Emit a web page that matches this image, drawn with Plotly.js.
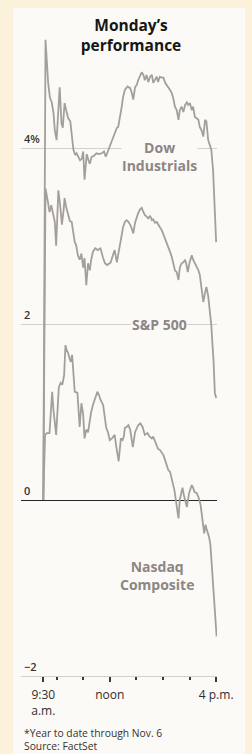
<!DOCTYPE html>
<html>
<head>
<meta charset="utf-8">
<script src="https://cdn.plot.ly/plotly-3.0.1.min.js"></script>
<style>
  html, body { margin: 0; padding: 0; background: #fcf2dc; }
  #chart { width: 252px; height: 754px; }
</style>
</head>
<body>
<div id="chart"></div>
<script>
// Minutes after 9:30 a.m. and percent change (year to date) for each index
const dowTime = [0,5,11,15,19,23,26,30,37,41,44,48,53,56,61,64,68,72,75,79,83,87,90,93,98,102,105,109,114,120,126,132,137,141,147,150,154,158,162,166,169,172,177,180,184,190,196,199,203,207,211,214,218,222,226,229,233,237,241,245,248,252,256,259,263,267,271,275,278,282,286,290,293,297,301,305,308,312,316,320,324,327,331,335,338,342,346,350,353,357,361,365,368,372,376,379,383,386,390];
const dowPct = [0,5.23,4.74,4.57,4.52,4.40,4.20,4.09,4.69,4.28,4.23,4.51,4.40,4.34,4.30,4.12,3.98,3.92,3.94,3.90,3.86,3.88,3.96,3.64,3.93,3.86,3.82,3.90,3.91,3.94,3.93,3.94,3.96,3.90,3.98,4.02,4.07,4.12,4.18,4.23,4.24,4.32,4.47,4.58,4.66,4.70,4.68,4.64,4.55,4.69,4.72,4.77,4.81,4.86,4.83,4.77,4.83,4.75,4.81,4.83,4.74,4.77,4.81,4.75,4.81,4.80,4.80,4.74,4.72,4.68,4.66,4.62,4.57,4.47,4.43,4.32,4.43,4.47,4.41,4.49,4.52,4.49,4.51,4.43,4.47,4.35,4.34,4.32,4.24,4.20,4.13,4.32,4.30,4.09,4.03,3.98,3.75,3.41,2.93];

const spTime = [0,5,11,14,18,22,26,29,34,38,42,46,48,52,56,60,64,67,71,74,78,82,86,90,93,97,101,105,108,112,117,123,129,135,139,144,147,152,157,161,166,172,176,180,184,188,192,196,199,203,207,211,214,218,222,226,229,233,237,241,245,248,252,256,259,263,267,271,275,278,282,286,290,293,297,301,305,308,312,316,320,323,326,330,335,338,342,346,350,353,357,361,365,368,372,376,379,381,384,387,390];
const spPct = [0,3.54,3.37,3.27,3.35,3.24,3.16,2.89,3.52,3.35,3.13,3.30,3.43,3.32,3.24,3.17,3.16,3.05,2.93,2.90,2.78,2.73,2.80,2.64,2.75,2.44,2.69,2.61,2.73,2.82,2.86,2.84,2.86,2.75,2.69,2.67,2.68,2.70,2.78,2.84,2.70,2.88,3.01,3.10,3.16,3.18,3.16,3.13,3.09,3.03,3.15,3.22,3.26,3.30,3.32,3.27,3.24,3.22,3.20,3.23,3.18,3.19,3.15,3.16,3.13,3.10,3.07,3.02,2.98,2.93,2.88,2.82,2.76,2.69,2.61,2.59,2.50,2.64,2.69,2.70,2.73,2.67,2.59,2.70,2.78,2.73,2.69,2.66,2.61,2.56,2.42,2.25,2.36,2.42,2.32,2.16,1.99,1.82,1.59,1.22,1.16];

const nasTime = [0,4,8,14,20,23,29,35,39,43,47,50,53,56,59,62,65,68,71,77,82,86,90,93,97,101,105,108,112,116,122,126,129,135,139,142,146,150,155,161,164,167,170,175,179,182,184,188,192,196,199,202,207,211,214,219,224,229,235,240,245,248,252,256,259,263,268,271,275,278,282,286,290,293,296,299,302,305,308,314,317,320,324,329,335,338,341,346,351,355,357,360,363,366,368,371,374,377,378,381,383,385,387,389,391];
const nasPct = [0,0.74,0.76,0.76,1.23,1.02,0.74,1.28,1.33,1.31,1.42,1.76,1.70,1.67,1.61,1.57,1.65,1.42,1.23,1.22,0.83,1.10,0.97,0.70,0.80,0.77,0.91,1.00,1.08,1.14,1.23,1.19,1.14,1.08,0.91,0.82,0.77,0.68,0.70,0.74,0.63,0.53,0.44,0.70,0.68,0.73,0.82,0.83,0.85,0.80,0.72,0.60,0.77,0.83,0.85,0.87,0.83,0.74,0.76,0.72,0.70,0.72,0.66,0.60,0.58,0.57,0.53,0.51,0.45,0.40,0.34,0.32,0.23,0.18,0.11,0.00,-0.09,-0.21,0.00,0.14,0.06,0.00,-0.08,0.08,0.17,0.14,0.09,0.08,0.02,-0.06,-0.17,-0.26,-0.38,-0.28,-0.32,-0.36,-0.42,-0.51,-0.59,-0.74,-0.87,-1.08,-1.25,-1.42,-1.55];

const seriesLabels = ['Dow<br>Industrials', 'S&amp;P 500', 'Nasdaq<br>Composite'];

const yTickVals = [-2, 0, 2, 4];
const yTickText = ['\u22122', '0', '2', '4%'];
const xMajorVals = [0, 150, 390];
const xMajorText = ['9:30<br>a.m.', 'noon', '4 p.m.'];
const xMinorVals = [30, 90, 210, 270, 330];
const footnote = '*Year to date through Nov. 6<br>Source: FactSet';

const lineColor = '#a59f9c';
const labelColor = '#8c8684';
const panelColor = '#fbfaf6';
const gridColor = '#d5d0cb';

const traces = [
  {x: dowTime, y: dowPct, name: 'Dow Industrials'},
  {x: spTime, y: spPct, name: 'S&P 500'},
  {x: nasTime, y: nasPct, name: 'Nasdaq Composite'}
].map(t => Object.assign(t, {
  type: 'scatter', mode: 'lines',
  line: {color: lineColor, width: 1.8},
  hoverinfo: 'skip', showlegend: false
}));

const labelFont = {family: 'Open Sans, sans-serif', size: 14, color: labelColor, weight: 700};
const tickFont = {family: 'Open Sans, sans-serif', size: 12, color: '#2e2e2e'};
const noteFont = {family: 'Open Sans, sans-serif', size: 10.3, color: '#333333'};

// plot area: x 21..217 px, y 30..676 px (bottom edge = -2)
const yBottom = -2;
const yTop = yBottom + 646 / 88;

const layout = {
  width: 252, height: 754,
  margin: {l: 21, r: 35, t: 30, b: 78},
  paper_bgcolor: '#fcf2dc',
  plot_bgcolor: 'rgba(0,0,0,0)',
  showlegend: false,
  title: {
    text: 'Monday\u2019s<br>performance',
    xref: 'container', yref: 'container',
    x: 131 / 252, xanchor: 'center',
    y: 1 - 31 / 754, yanchor: 'middle',
    font: {family: 'Open Sans, sans-serif', size: 15.5, color: '#161616', weight: 700}
  },
  xaxis: {
    range: [-50.3, 391.9],
    showgrid: false, zeroline: false,
    showline: true, linecolor: gridColor, linewidth: 1,
    tickmode: 'array', tickvals: xMajorVals, ticktext: xMajorText,
    ticks: 'outside', ticklen: 5, tickwidth: 2, tickcolor: '#3a3a3a',
    minor: {tickmode: 'array', tickvals: xMinorVals, ticks: 'outside', ticklen: 3, tickwidth: 2, tickcolor: '#3a3a3a', showgrid: false},
    tickfont: tickFont,
    ticklabelstandoff: 3,
    fixedrange: true
  },
  yaxis: {
    range: [yBottom, yTop],
    tickmode: 'array', tickvals: yTickVals, ticktext: yTickText,
    ticks: '', ticklabelposition: 'inside', ticklabelshift: -9,
    tickfont: {family: 'Open Sans, sans-serif', size: 11, color: '#333333', weight: 600},
    showgrid: true, gridcolor: gridColor, gridwidth: 1,
    zeroline: true, zerolinecolor: '#262626', zerolinewidth: 1,
    showline: false, fixedrange: true
  },
  shapes: [{
    type: 'rect', xref: 'paper', yref: 'paper', layer: 'below',
    x0: -8 / 196, x1: 224 / 196, y0: -78 / 646, y1: 668 / 646,
    fillcolor: panelColor, line: {width: 0}
  }],
  annotations: [
    {text: seriesLabels[0], xref: 'x', yref: 'y', x: 263, y: (500 - 156) / 88, showarrow: false, font: labelFont, bgcolor: panelColor, borderpad: 0, align: 'center', xanchor: 'center', yanchor: 'middle'},
    {text: seriesLabels[1], xref: 'x', yref: 'y', x: 263, y: 2.0, showarrow: false, font: labelFont, bgcolor: panelColor, borderpad: 0, xanchor: 'center', yanchor: 'middle'},
    {text: seriesLabels[2], xref: 'x', yref: 'y', x: 257, y: (500 - 575) / 88, showarrow: false, font: labelFont, align: 'center', xanchor: 'center', yanchor: 'middle'},
    {text: footnote, xref: 'paper', yref: 'paper', x: 0.003, y: (676 - 739.5) / 646, showarrow: false, align: 'left', xanchor: 'left', yanchor: 'middle', font: noteFont}
  ]
};

Plotly.newPlot('chart', traces, layout, {displayModeBar: false, staticPlot: true});
</script>
</body>
</html>
